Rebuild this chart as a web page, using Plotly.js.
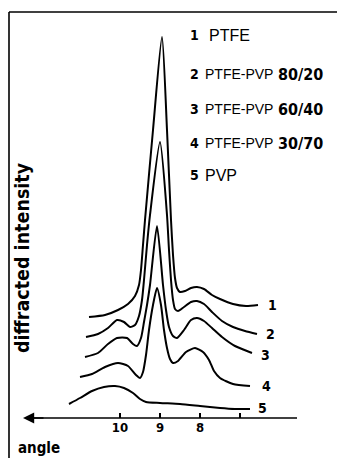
<!DOCTYPE html>
<html>
<head>
<meta charset="utf-8">
<script src="https://cdn.plot.ly/plotly-3.0.1.min.js"></script>
<style>html,body{margin:0;padding:0;background:#fff;}#chart{width:337px;height:458px;}</style>
</head>
<body>
<div id="chart"></div>
<script>
// diffraction angle (deg) and diffracted intensity (arbitrary units, baseline = axis)
const angle1 = [10.775,10.375,10.05,9.8,9.625,9.525,9.475,9.425,9.375,9.175,8.95,8.825,8.725,8.675,8.625,8.575,8.5,8.375,8.225,8.075,7.9,7.7,7.5,7.175,6.85,6.55];
const ptfe   = [101,103,108,114,122,133,148,173,198,288,381,288,198,163,140,130,126,127,130,131,129,123,119,114,112,113];

const angle2 = [10.85,10.55,10.3,10.075,9.9,9.75,9.625,9.525,9.45,9.4,9.325,9.25,9.0,8.825,8.775,8.725,8.675,8.625,8.55,8.4,8.225,8.075,7.9,7.7,7.45,7.175,6.875,6.575];
const blend8020 = [81,84,90,98,96,91,93,102,118,138,173,203,276,203,168,138,118,109,107,111,116,117,114,106,97,91,87,84];

const angle3 = [10.875,10.55,10.3,10.075,9.825,9.675,9.575,9.475,9.4,9.325,9.25,9.075,8.925,8.85,8.775,8.675,8.575,8.4,8.225,8.075,7.9,7.7,7.45,7.125,6.7];
const blend6040 = [61,65,74,80,80,74,72,80,96,113,133,192,133,108,91,82,80,88,98,100,97,90,81,72,65];

const angle4 = [11.0,10.7,10.375,10.05,9.8,9.6,9.5,9.425,9.35,9.275,9.175,9.075,8.975,8.9,8.825,8.75,8.675,8.55,8.35,8.125,7.925,7.775,7.65,7.5,7.175,6.75];
const blend3070 = [41,44,51,55,52,43,40,46,63,88,113,130,113,88,70,59,55,57,66,70,66,58,47,40,34,32];

const angle5 = [11.275,11.0,10.7,10.4,10.125,9.9,9.675,9.5,9.35,9.0,8.5,8.0,7.5,7.125,6.75];
const pvp    = [14,20,27,31,32,30,25,19,16,15,14,12,10,9,9];

const tickVals = [10, 9, 8, 7];
const tickText = ['10', '9', '8', ''];

const curveNums = ['1','2','3','4','5'];
const curveNumX = [6.2, 6.25, 6.375, 6.35, 6.45];
const curveNumY = [113, 84, 63, 32, 10];

const legendNames = ['PTFE', 'PTFE-PVP', 'PTFE-PVP', 'PTFE-PVP', 'PVP'];
const legendRatios = ['', '80/20', '60/40', '30/70', ''];

const series = [[angle1, ptfe], [angle2, blend8020], [angle3, blend6040], [angle4, blend3070], [angle5, pvp]];

const W = 337, H = 458;
const boldF = '"DejaVu Sans Condensed", "DejaVu Sans", sans-serif';
const plainF = '"Liberation Sans", Arial, sans-serif';

const traces = series.map(([x, y], i) => ({
  x: x, y: y, type: 'scatter', mode: 'lines',
  line: {color: '#000', width: 2, shape: 'spline', smoothing: 0.6},
  hoverinfo: 'skip', showlegend: false, name: curveNums[i]
}));

const ann = [];
// curve numbers at the right ends
curveNums.forEach((t, i) => ann.push({
  x: curveNumX[i], y: curveNumY[i], xref: 'x', yref: 'y', text: '<b>' + t + '</b>',
  showarrow: false, xanchor: 'center', yanchor: 'middle',
  font: {family: boldF, size: 14, color: '#000'}
}));
// legend block
const rowY = [35, 74, 109, 143, 175];
curveNums.forEach((t, i) => {
  const py = 1 - rowY[i] / H;
  ann.push({x: 188 / W, y: py, xref: 'paper', yref: 'paper', text: '<b>' + t + '</b>', showarrow: false,
    xanchor: 'left', yanchor: 'middle', font: {family: boldF, size: 14, color: '#000'}});
  ann.push({x: (i === 0 ? 207 : 203) / W, y: py, xref: 'paper', yref: 'paper', text: legendNames[i], showarrow: false,
    xanchor: 'left', yanchor: 'middle', font: {family: plainF, size: (i === 0 || i === 4) ? 16 : 14, color: '#000'}});
  if (legendRatios[i]) ann.push({x: 276 / W, y: py, xref: 'paper', yref: 'paper', text: '<b>' + legendRatios[i] + '</b>', showarrow: false,
    xanchor: 'left', yanchor: 'middle', font: {family: boldF, size: 16, color: '#000'}});
});
// axis titles
ann.push({x: 22 / W, y: 1 - 258 / H, xref: 'paper', yref: 'paper', text: '<b>diffracted intensity</b>', textangle: -90,
  showarrow: false, xanchor: 'center', yanchor: 'middle', font: {family: boldF, size: 19.5, color: '#000'}});
ann.push({x: 16 / W, y: 1 - 448 / H, xref: 'paper', yref: 'paper', text: '<b>angle</b>',
  showarrow: false, xanchor: 'left', yanchor: 'middle', font: {family: boldF, size: 15, color: '#000'}});
// arrow head of the angle axis
ann.push({x: 12.425, y: 0, xref: 'x', yref: 'y', ax: 22, ay: 0, text: '', showarrow: true,
  arrowhead: 2, arrowsize: 1.4, arrowwidth: 1.6, arrowcolor: '#000'});

const layout = {
  width: W, height: H,
  margin: {l: 0, r: 0, t: 0, b: 0},
  paper_bgcolor: '#fff', plot_bgcolor: '#fff',
  showlegend: false,
  xaxis: {range: [13, 4.575], anchor: 'free', position: 40 / H, showline: false, showgrid: false, zeroline: false,
    tickmode: 'array', tickvals: tickVals, ticktext: tickText, ticks: 'inside', ticklen: 5, tickwidth: 1.5, tickcolor: '#000',
    tickfont: {family: boldF, size: 13, color: '#000', weight: 'bold'}, fixedrange: true},
  yaxis: {range: [-40, 418], visible: false, fixedrange: true},
  shapes: [
    {type: 'line', xref: 'x', yref: 'y', x0: 12.3, x1: 5.575, y0: 0, y1: 0, line: {color: '#000', width: 1.6}},
    {type: 'line', xref: 'paper', yref: 'paper', x0: 9 / W, x1: 9 / W, y0: 0, y1: 1 - 12 / H, line: {color: '#000', width: 1.6}},
    {type: 'line', xref: 'paper', yref: 'paper', x0: 9 / W, x1: 1, y0: 1 - 12 / H, y1: 1 - 12 / H, line: {color: '#000', width: 1.6}}
  ],
  annotations: ann
};

Plotly.newPlot('chart', traces, layout, {displayModeBar: false, staticPlot: true});
</script>
</body>
</html>
